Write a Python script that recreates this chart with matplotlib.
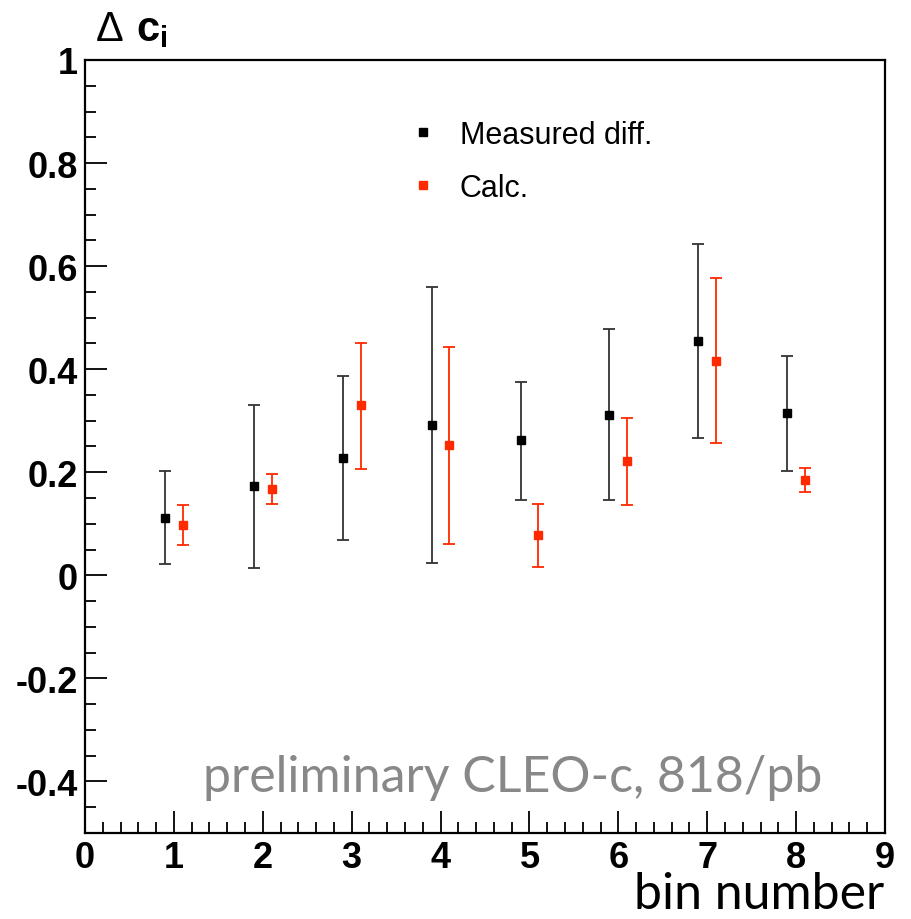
import matplotlib
matplotlib.use("Agg")
from matplotlib import pyplot as plt
from matplotlib.lines import Line2D
from matplotlib.ticker import MultipleLocator
import numpy as np

plt.rcParams['font.family'] = ['Liberation Sans', 'DejaVu Sans']
plt.rcParams['mathtext.fontset'] = 'custom'
plt.rcParams['mathtext.rm'] = 'Liberation Sans'
plt.rcParams['mathtext.bf'] = 'Liberation Sans:bold'

# data
bins = np.array([1, 2, 3, 4, 5, 6, 7, 8])
meas_val = np.array([0.112, 0.173, 0.227, 0.292, 0.262, 0.312, 0.454, 0.315])
meas_hi = np.array([0.202, 0.331, 0.386, 0.560, 0.376, 0.478, 0.642, 0.426])
meas_lo = np.array([0.022, 0.014, 0.069, 0.024, 0.146, 0.146, 0.267, 0.202])
calc_val = np.array([0.098, 0.168, 0.330, 0.252, 0.078, 0.222, 0.416, 0.185])
calc_hi = np.array([0.137, 0.197, 0.450, 0.443, 0.139, 0.305, 0.576, 0.208])
calc_lo = np.array([0.058, 0.139, 0.207, 0.060, 0.017, 0.137, 0.256, 0.161])
offset = 0.1

red = '#ff2a00'

fig = plt.figure(figsize=(9.11, 9.2), dpi=100)
ax = fig.add_axes([0.0933, 0.0935, 0.8782, 0.8402])

ax.errorbar(bins - offset, meas_val, yerr=[meas_val - meas_lo, meas_hi - meas_val],
            fmt='s', color='black', ecolor='#333333', ms=5.5, capsize=4,
            elinewidth=1.3, capthick=1.3)
ax.errorbar(bins + offset, calc_val, yerr=[calc_val - calc_lo, calc_hi - calc_val],
            fmt='s', color=red, ecolor=red, ms=5.5, capsize=4,
            elinewidth=1.3, capthick=1.3)

ax.set_xlim(0, 9)
ax.set_ylim(-0.5, 1)
ax.xaxis.set_major_locator(MultipleLocator(1))
ax.xaxis.set_minor_locator(MultipleLocator(0.2))
ax.yaxis.set_major_locator(MultipleLocator(0.2))
ax.yaxis.set_minor_locator(MultipleLocator(0.05))
ax.tick_params(which='both', direction='in', top=False, right=False, width=1.3,
               labelsize=26, pad=5)
ax.tick_params(which='major', length=16)
ax.tick_params(which='minor', length=8)
ax.set_yticks([-0.4, -0.2, 0, 0.2, 0.4, 0.6, 0.8, 1.0])
ax.set_yticklabels(['-0.4', '-0.2', '0', '0.2', '0.4', '0.6', '0.8', '1'],
                   fontweight='bold')
ax.set_xticks(range(10))
ax.set_xticklabels([str(i) for i in range(10)], fontweight='bold')
for s in ax.spines.values():
    s.set_linewidth(1.6)

handles = [Line2D([], [], marker='s', ls='none', color='black', ms=5.5),
           Line2D([], [], marker='s', ls='none', color=red, ms=5.5)]
ax.legend(handles, ['Measured diff.', 'Calc.'], loc='upper left',
          bbox_to_anchor=(0.373, 0.958), frameon=False, fontsize=22,
          handlelength=0.8, handletextpad=0.8, labelspacing=0.75)

fig.text(0.104, 0.955, r'$\Delta\ \mathbf{c_i}$', fontsize=30)
fig.text(0.971, 0.012, 'bin number', fontsize=36, family='Lato', ha='right', va='baseline')
ax.text(0.534, 0.054, 'preliminary CLEO-c, 818/pb', transform=ax.transAxes,
        fontsize=36, family='Lato', color='#888888', ha='center', va='baseline')

fig.savefig('out.png', dpi=100)
